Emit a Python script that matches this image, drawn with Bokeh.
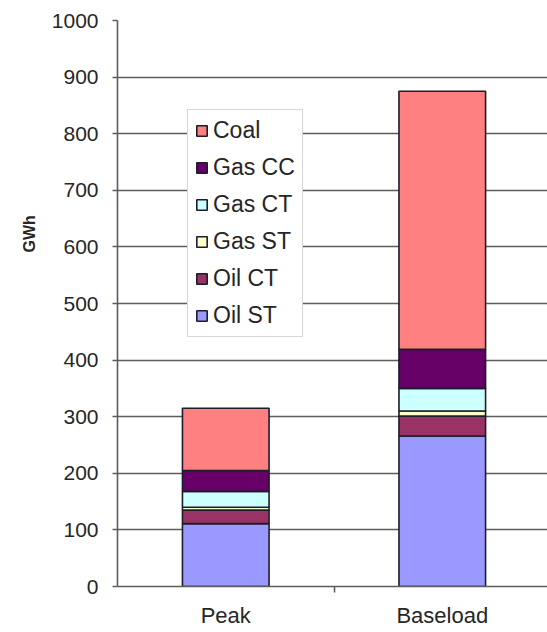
from bokeh.embed import file_html
from bokeh.models import (ColumnDataSource, FixedTicker, Legend, LegendItem,
                          Range1d, Title)
from bokeh.plotting import figure
from bokeh.resources import INLINE

# Energy by generator type for each load scenario (GWh)
categories = ["Peak", "Baseload"]
oil_st = [111, 266]
oil_ct = [24, 35]
gas_st = [5, 9]
gas_ct = [28, 40]
gas_cc = [37, 69]
coal = [110, 456]

series = ["Oil ST", "Oil CT", "Gas ST", "Gas CT", "Gas CC", "Coal"]
colors = ["#9999FF", "#993366", "#FFFFCC", "#CCFFFF", "#660066", "#FF8080"]

y_ticks = list(range(0, 1001, 100))

FONT = "Liberation Sans"
TEXT = "#262626"
GRID = "#5c5c5c"

source = ColumnDataSource(data={
    "x": [i + 0.5 for i in range(len(categories))],
    "Oil ST": oil_st,
    "Oil CT": oil_ct,
    "Gas ST": gas_st,
    "Gas CT": gas_ct,
    "Gas CC": gas_cc,
    "Coal": coal,
})

p = figure(
    width=547, height=632,
    x_range=Range1d(0, 1.986), y_range=Range1d(0, 1000),
    output_backend="svg", toolbar_location=None,
    min_border_left=117, min_border_right=0,
    min_border_top=20, min_border_bottom=46,
)
p.outline_line_color = None
p.background_fill_color = "white"
p.border_fill_color = "white"

renderers = p.vbar_stack(
    series, x="x", width=0.4, source=source,
    fill_color=colors, line_color="#1c1c2c", line_width=1.6,
)

# horizontal gridlines
p.xgrid.visible = False
p.ygrid.ticker = FixedTicker(ticks=y_ticks)
p.ygrid.grid_line_color = GRID
p.ygrid.grid_line_width = 1.6

# y axis
p.yaxis.ticker = FixedTicker(ticks=y_ticks)
p.yaxis.axis_line_color = GRID
p.yaxis.axis_line_width = 1.6
p.yaxis.major_tick_line_color = GRID
p.yaxis.major_tick_line_width = 1.6
p.yaxis.major_tick_out = 5
p.yaxis.major_tick_in = 0
p.yaxis.minor_tick_line_color = None
p.yaxis.major_label_standoff = 14
p.yaxis.major_label_text_font = FONT
p.yaxis.major_label_text_font_size = "21px"
p.yaxis.major_label_text_color = TEXT

# x axis: labels at category centres, tick marks between categories
p.xaxis.ticker = FixedTicker(
    ticks=[i + 0.5 for i in range(len(categories))],
    minor_ticks=[float(i) for i in range(1, len(categories))],
)
p.xaxis.major_label_overrides = {i + 0.5: c for i, c in enumerate(categories)}
p.xaxis.axis_line_color = GRID
p.xaxis.axis_line_width = 1.6
p.xaxis.major_tick_line_color = None
p.xaxis.major_tick_out = 0
p.xaxis.major_tick_in = 0
p.xaxis.minor_tick_line_color = GRID
p.xaxis.minor_tick_line_width = 1.6
p.xaxis.minor_tick_out = 6
p.xaxis.minor_tick_in = 0
p.xaxis.major_label_standoff = 10
p.xaxis.major_label_text_font = FONT
p.xaxis.major_label_text_font_size = "22px"
p.xaxis.major_label_text_color = TEXT

# y axis title, set in the left margin
p.add_layout(Title(
    text="GWh", align="left", offset=334, standoff=21,
    text_font=FONT, text_font_size="16px", text_font_style="bold",
    text_color=TEXT,
), "left")

# legend, top entry = top of the stack
items = [LegendItem(label=name, renderers=[r])
         for name, r in zip(series, renderers)][::-1]
legend = Legend(
    items=items, location=(70, 249),
    label_text_font=FONT, label_text_font_size="23px",
    label_text_color=TEXT, label_standoff=5,
    glyph_width=13, glyph_height=13, label_height=20,
    spacing=10, padding=7, margin=0,
    border_line_color="#b0b0b0", border_line_width=1,
    background_fill_color="white", background_fill_alpha=1,
)
p.add_layout(legend)

open("out.html", "w").write(file_html(p, INLINE))
